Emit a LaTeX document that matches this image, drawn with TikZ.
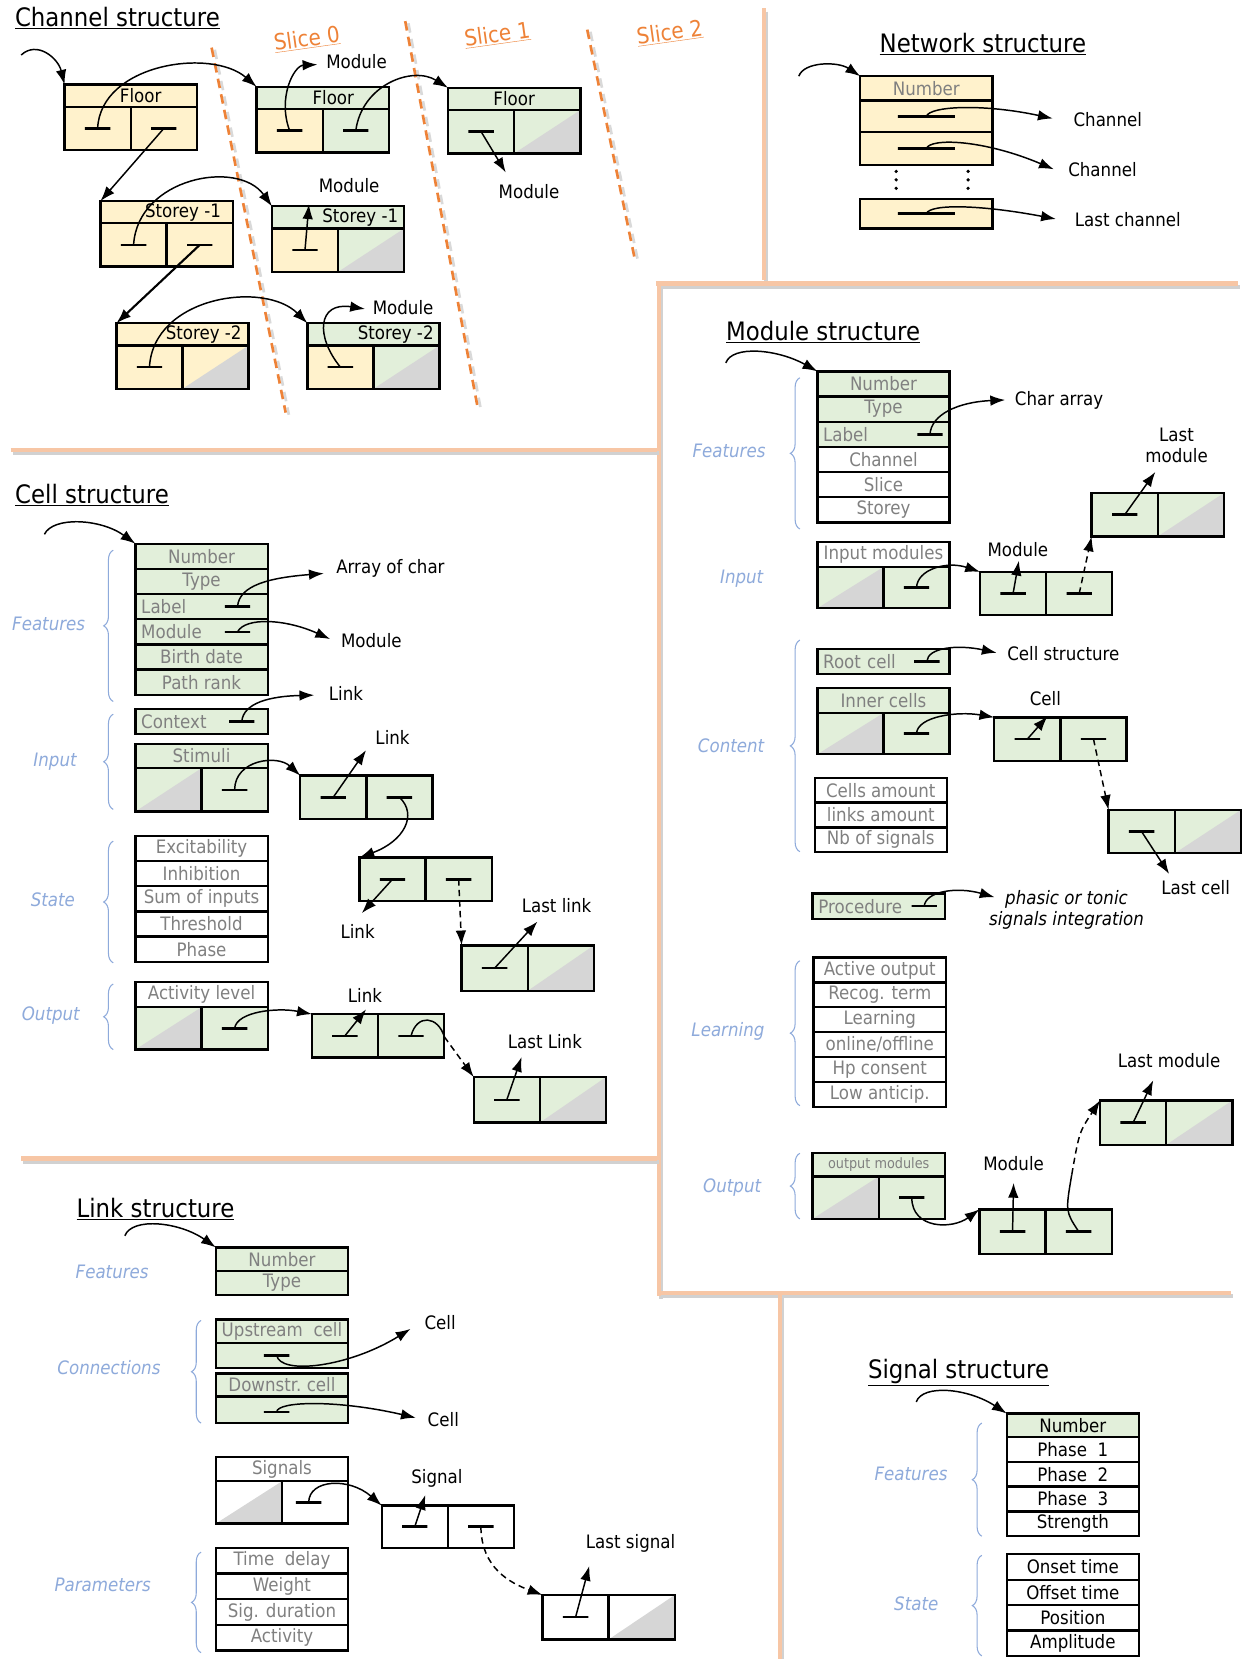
\documentclass[tikz,border=0pt]{standalone}
\usepackage{fontspec}
\setmainfont{DejaVu Sans}[FakeStretch=0.9]
\usetikzlibrary{arrows.meta,positioning,decorations.pathreplacing}

\definecolor{grn}{RGB}{226,239,218}
\definecolor{crm}{RGB}{255,242,204}
\definecolor{gry}{RGB}{214,214,214}
\definecolor{txtgray}{RGB}{128,128,128}
\definecolor{secblue}{RGB}{142,170,219}
\definecolor{peach}{RGB}{247,198,165}
\definecolor{slicecol}{RGB}{238,130,55}

\newcommand\rowfont{\fontsize{17.5}{19}\selectfont}
\newcommand\labfont{\fontsize{17.5}{20}\selectfont}
\newcommand\ttlfont{\fontsize{24}{28}\selectfont}
\newcommand\slcfont{\fontsize{21}{24}\selectfont}

\begin{document}
\begin{tikzpicture}[x=1pt, y=-1pt]
\tikzset{ >={Latex[length=14pt,width=10pt]},
  box/.style={draw, line width=2.2pt, inner sep=0pt, outer sep=0pt,
    minimum width=125pt, minimum height=23.8pt, text=txtgray, font=\rowfont},
  gbox/.style={box, fill=grn}, wbox/.style={box, fill=white}, ybox/.style={box, fill=crm},
  hdr/.style={box, minimum height=21pt, text=black, font=\labfont},
  cel/.style={box, minimum width=62.5pt, minimum height=41pt},
  lft/.style={text width=114pt, align=left},
  diag/.style={path picture={\fill[gry] (path picture bounding box.south west)
    -- (path picture bounding box.north east) -- (path picture bounding box.south east) -- cycle;}},
  ptrbar/.style={draw, line width=2.4pt, minimum width=24pt, minimum height=0pt, inner sep=0pt, outer sep=0pt},
  ptr/.style={->, line width=1.4pt},
  dptr/.style={ptr, dash pattern=on 6pt off 4pt},
  brc/.style={draw=secblue, line width=1pt, decorate, decoration={brace, amplitude=9pt}},
  sec/.style={text=secblue, font=\labfont\itshape, inner sep=0pt},
  lab/.style={font=\labfont, inner sep=0pt},
  ttl/.style={font=\ttlfont, inner sep=0pt},
  slc/.style={font=\slcfont, text=slicecol, inner sep=0pt, rotate=8},
  sepline/.style={draw=peach, line width=4pt},
  sepshade/.style={draw=black!18, line width=4pt},
}

\path[use as bounding box, fill=white] (0,0) rectangle (1173,1568);

% panel separators
\foreach \xa/\ya/\xb/\yb in {722/8/722/265, 620/268/1170/268, 623/268/623/1225,
    10/425/621/425, 20/1095/621/1095, 625/1222/1163/1222, 737/1224/737/1568}
  { \draw[sepshade] (\xa+2,\ya+3) -- (\xb+2,\yb+3);
    \draw[sepline] (\xa,\ya) -- (\xb,\yb); }

% slices
\foreach \xa/\ya/\xb/\yb in {200/45/270/390, 383/20/452/388, 555/28/600/245}
  { \draw[black!15, line width=2.5pt, dash pattern=on 9pt off 6pt] (\xa+3,\ya+2) -- (\xb+3,\yb+2);
    \draw[slicecol, line width=2.5pt, dash pattern=on 9pt off 6pt] (\xa,\ya) -- (\xb,\yb); }

%%% Channel structure
\node[ttl] (chT) at (111,17) {\underline{Channel structure}};
\node[slc] (sl0) at (290,37) {\underline{Slice 0}};
\node[slc] (sl1) at (470,33) {\underline{Slice 1}};
\node[slc] (sl2) at (633,31) {\underline{Slice 2}};

\node[hdr, fill=crm] (F0) at (123.5,90.5) {\hspace*{19pt}Floor};
\node[cel, fill=crm, below right=0pt of F0.south west] (F0l) {};
\node[cel, fill=crm, right=0pt of F0l] (F0r) {};
\node[hdr, fill=grn] (F1) at (305,92.5) {\hspace*{20pt}Floor};
\node[cel, fill=crm, below right=0pt of F1.south west] (F1l) {};
\node[cel, fill=grn, right=0pt of F1l] (F1r) {};
\node[hdr, fill=grn] (F2) at (486,93.5) {Floor};
\node[cel, fill=grn, below right=0pt of F2.south west] (F2l) {};
\node[cel, fill=grn, diag, right=0pt of F2l] (F2r) {};
\node[hdr, fill=crm] (S1a) at (157.5,200.5) {\hspace*{31pt}Storey -1};
\node[cel, fill=crm, below right=0pt of S1a.south west] (S1al) {};
\node[cel, fill=crm, right=0pt of S1al] (S1ar) {};
\node[hdr, fill=grn] (S1b) at (319.5,205.5) {\hspace*{42pt}Storey -1};
\node[cel, fill=crm, below right=0pt of S1b.south west] (S1bl) {};
\node[cel, fill=grn, diag, right=0pt of S1bl] (S1br) {};
\node[hdr, fill=crm] (S2a) at (172.5,316) {\hspace*{40pt}Storey -2};
\node[cel, fill=crm, below right=0pt of S2a.south west] (S2al) {};
\node[cel, fill=crm, diag, right=0pt of S2al] (S2ar) {};
\node[hdr, fill=grn] (S2b) at (353,316) {\hspace*{42pt}Storey -2};
\node[cel, fill=crm, below right=0pt of S2b.south west] (S2bl) {};
\node[cel, fill=grn, diag, right=0pt of S2bl] (S2br) {};
\foreach \c in {F0l,F0r,F1l,F1r,F2l,S1al,S1ar,S1bl,S2al,S2bl} \node[ptrbar] (b\c) at (\c) {};

\coordinate (chIn) at (20,52);
\coordinate (tChM1) at (300,61);
\coordinate (tChM2) at (478,163);
\coordinate (tChM3) at (292,193);
\coordinate (tChM4) at (345,292);
\draw[ptr] (chIn) .. controls (35,38) and (55,55) .. (F0.north west);
\draw[ptr] (bF0l.center) .. controls (95,60) and (200,45) .. (F1.north west);
\draw[ptr] (bF0r.center) -- (S1a.north west);
\draw[ptr] (bF1l.center) .. controls (262,92) and (278,62) .. (tChM1);
\draw[ptr] (bF1r.center) .. controls (342,80) and (390,62) .. (F2.north west);
\draw[ptr] (bF2l.center) -- (tChM2);
\draw[ptr] (bS1al.center) .. controls (130,168) and (225,150) .. (S1b.north west);
\draw[ptr, line width=2pt] (bS1ar.center) -- (S2a.north west);
\draw[ptr] (bS1bl.center) -- (tChM3);
\draw[ptr] (bS2al.center) .. controls (145,280) and (250,265) .. (S2b.north west);
\draw[ptr] (bS2bl.center) .. controls (298,318) and (300,285) .. (tChM4);
\node[lab] (chM1) at (337,58) {Module};
\node[lab] (chM2) at (500,181) {Module};
\node[lab] (chM3) at (330,175) {Module};
\node[lab] (chM4) at (381,291) {Module};

%%% Network structure
\node[ttl] (nwT) at (929,42) {\underline{Network structure}};
\node[ybox, minimum height=23pt] (nN) at (875.5,83.5) {Number};
\node[ybox, minimum height=30pt] (nC1) at (875.5,110) {};
\node[ybox, minimum height=31pt] (nC2) at (875.5,140.5) {};
\node[ybox, minimum height=28pt] (nC3) at (875.5,202) {};
\foreach \c in {nC1,nC2,nC3} \node[ptrbar, minimum width=54pt] (b\c) at (\c) {};
\foreach \x in {847,915} \foreach \y in {162,170,178} \fill (\x,\y) circle (1.7);
\coordinate (nIn) at (755,72);
\coordinate (tN1) at (995,112);
\coordinate (tN2) at (996,160);
\coordinate (tN3) at (998,207);
\draw[ptr] (nIn) .. controls (760,58) and (792,58) .. (nN.north west);
\draw[ptr] (bnC1.center) .. controls (879,100) and (930,98) .. (tN1);
\draw[ptr] (bnC2.center) .. controls (879,130) and (930,132) .. (tN2);
\draw[ptr] (bnC3.center) .. controls (879,192) and (930,194) .. (tN3);
\node[lab] (nL1) at (1047,113) {Channel};
\node[lab] (nL2) at (1042,160) {Channel};
\node[lab] (nL3) at (1066,208) {Last channel};

%%% Module structure
\node[ttl] (moT) at (778,314) {\underline{Module structure}};
\node[gbox] (mf1) at (835,362.9) {Number};
\node[gbox, below=0pt of mf1] (mf2) {Type};
\node[gbox, lft, below=0pt of mf2] (mf3) {Label};
\node[wbox, below=0pt of mf3] (mf4) {Channel};
\node[wbox, below=0pt of mf4] (mf5) {Slice};
\node[wbox, below=0pt of mf5] (mf6) {Storey};
\node[ptrbar, xshift=44pt] (bmf3) at (mf3) {};
\node[wbox] (mIn) at (835,524) {Input modules};
\node[cel, fill=grn, diag, minimum height=39pt, below right=0pt of mIn.south west] (mInl) {};
\node[cel, fill=grn, minimum height=39pt, right=0pt of mInl] (mInr) {};
\node[gbox, lft] (mRoot) at (835,625) {Root cell};
\node[ptrbar, xshift=41pt] (bmRoot) at (mRoot) {};
\node[gbox] (mInc) at (835,662) {Inner cells};
\node[cel, fill=grn, diag, minimum height=39pt, below right=0pt of mInc.south west] (mIncl) {};
\node[cel, fill=grn, minimum height=39pt, right=0pt of mIncl] (mIncr) {};
\foreach \t [count=\i] in {Cells amount,links amount,Nb of signals}
  \node[wbox, minimum height=23.5pt] (mc\i) at (832.5,723.25+23.5*\i) {\t};
\node[gbox, lft] (mPr) at (830.5,856.5) {Procedure};
\node[ptrbar, xshift=43pt] (bmPr) at (mPr) {};
\node[wbox, minimum height=23.5pt] (ml1) at (831.5,916.75) {Active output};
\node[wbox, minimum height=23.5pt, below=0pt of ml1] (ml2) {Recog. term};
\node[wbox, minimum height=23.5pt, below=0pt of ml2] (ml3) {Learning};
\node[wbox, minimum height=23.5pt, below=0pt of ml3] (ml4) {online/offline};
\node[wbox, minimum height=23.5pt, below=0pt of ml4] (ml5) {Hp consent};
\node[wbox, minimum height=23.5pt, below=0pt of ml5] (ml6) {Low anticip.};
\node[gbox, minimum height=22pt, font=\fontsize{13.5}{15}\selectfont] (mOut) at (830.5,1101) {output modules};
\node[cel, fill=grn, diag, minimum height=40pt, below right=0pt of mOut.south west] (mOutl) {};
\node[cel, fill=grn, minimum height=40pt, right=0pt of mOutl] (mOutr) {};

\node[cel, fill=grn] (M1) at (957.5,561) {};
\node[cel, fill=grn, right=0pt of M1] (M1r) {};
\node[cel, fill=grn] (LM1) at (1063,486.5) {};
\node[cel, fill=grn, diag, right=0pt of LM1] (LM1r) {};
\node[cel, fill=grn] (C1) at (971,698.5) {};
\node[cel, fill=grn, right=0pt of C1] (C1r) {};
\node[cel, fill=grn] (LC) at (1079,786) {};
\node[cel, fill=grn, diag, right=0pt of LC] (LCr) {};
\node[cel, fill=grn, minimum height=42pt] (M2) at (957,1164) {};
\node[cel, fill=grn, minimum height=42pt, right=0pt of M2] (M2r) {};
\node[cel, fill=grn, minimum height=42pt] (LM2) at (1071,1061) {};
\node[cel, fill=grn, diag, minimum height=42pt, right=0pt of LM2] (LM2r) {};
\foreach \c in {mInr,mIncr,mOutr,M1,M1r,LM1,C1,C1r,LC,M2,M2r,LM2} \node[ptrbar] (b\c) at (\c) {};

\coordinate (mEntry) at (686,343);
\coordinate (tmChar) at (950,378);
\coordinate (tmMod1) at (963,530);
\coordinate (tmLast1) at (1092,446);
\coordinate (tmCS) at (942,617);
\coordinate (tmCell) at (990,677);
\coordinate (tmLC) at (1105,826);
\coordinate (tmPh) at (940,848);
\coordinate (tmMod2) at (958,1118);
\coordinate (mMid) at (1013,1110);
\coordinate (tmLast2) at (1090,1021);
\draw[ptr] (mEntry) .. controls (692,326) and (735,330) .. (mf1.north west);
\draw[ptr] (bmf3.center) .. controls (880,392) and (905,380) .. (tmChar);
\draw[ptr] (bmInr.center) .. controls (867,538) and (895,530) .. (M1.north west);
\draw[ptr] (bM1.center) -- (tmMod1);
\draw[dptr] (bM1r.center) -- (LM1.south west);
\draw[ptr] (bLM1.center) -- (tmLast1);
\draw[ptr] (bmRoot.center) .. controls (877,612) and (905,609) .. (tmCS);
\draw[ptr] (bmIncr.center) .. controls (867,677) and (905,672) .. (C1.north west);
\draw[ptr] (bC1.center) -- (tmCell);
\draw[dptr] (bC1r.center) -- (LC.north west);
\draw[ptr] (bLC.center) -- (tmLC);
\draw[ptr] (bmPr.center) .. controls (875,842) and (905,838) .. (tmPh);
\draw[ptr] (bmOutr.center) .. controls (862,1162) and (900,1162) .. (M2.north west);
\draw[ptr] (bM2.center) -- (tmMod2);
\draw[line width=1.4pt] (bM2r.center) .. controls (1007,1145) .. (mMid);
\draw[dptr] (mMid) .. controls (1020,1070) .. (LM2.north west);
\draw[ptr] (bLM2.center) -- (tmLast2);
\node[lab] (mChar) at (1001,378) {Char array};
\node[lab, align=center] (mLast1) at (1112,421) {Last\\module};
\node[lab] (mMod1) at (962,519) {Module};
\node[lab] (mCS) at (1005,618) {Cell structure};
\node[lab] (mCell) at (988,660) {Cell};
\node[lab] (mLC) at (1130,839) {Last cell};
\node[lab, align=center, font=\labfont\itshape] (mPh) at (1008,860) {phasic or tonic\\signals integration};
\node[lab] (mLast2) at (1105,1002) {Last module};
\node[lab] (mMod2) at (958,1100) {Module};
\draw[brc] (756,500) -- (756,357);
\draw[brc] (756,805) -- (756,605);
\draw[brc] (756,1045) -- (756,908);
\draw[brc] (756,1152) -- (756,1090);
\node[sec] (mSecFe) at (689,426) {Features};
\node[sec] (mSecIn) at (701,547) {Input};
\node[sec] (mSecCo) at (691,705) {Content};
\node[sec] (mSecLe) at (688,975) {Learning};
\node[sec] (mSecOu) at (692,1122) {Output};

%%% Cell structure
\node[ttl] (ceT) at (87,468) {\underline{Cell structure}};
\node[gbox] (cf1) at (190.5,525.8) {Number};
\node[gbox, below=0pt of cf1] (cf2) {Type};
\node[gbox, lft, below=0pt of cf2] (cf3) {Label};
\node[gbox, lft, below=0pt of cf3] (cf4) {Module};
\node[gbox, below=0pt of cf4] (cf5) {Birth date};
\node[gbox, below=0pt of cf5] (cf6) {Path rank};
\node[ptrbar, xshift=34pt] (bcf3) at (cf3) {};
\node[ptrbar, xshift=34pt] (bcf4) at (cf4) {};
\node[gbox, lft] (cCtx) at (190.5,682) {Context};
\node[ptrbar, xshift=38pt] (bcCtx) at (cCtx) {};
\node[gbox, minimum height=23pt] (cStim) at (190.5,714.5) {Stimuli};
\node[cel, fill=grn, diag, below right=0pt of cStim.south west] (cStiml) {};
\node[cel, fill=grn, right=0pt of cStiml] (cStimr) {};
\foreach \t [count=\i] in {Excitability,Inhibition,Sum of inputs,Threshold,Phase}
  \node[wbox] (cs\i) at (190.5,778.1+23.8*\i) {\t};
\node[wbox] (cAct) at (190.5,940) {Activity level};
\node[cel, fill=grn, diag, minimum height=40pt, below right=0pt of cAct.south west] (cActl) {};
\node[cel, fill=grn, minimum height=40pt, right=0pt of cActl] (cActr) {};

\node[cel, fill=grn] (L1) at (315,753.5) {};
\node[cel, fill=grn, right=0pt of L1] (L1r) {};
\node[cel, fill=grn] (L2) at (371,831) {};
\node[cel, fill=grn, right=0pt of L2] (L2r) {};
\node[cel, fill=grn, minimum height=43pt] (LL1) at (467.5,915) {};
\node[cel, fill=grn, diag, minimum height=43pt, right=0pt of LL1] (LL1r) {};
\node[cel, fill=grn] (L3) at (326,979) {};
\node[cel, fill=grn, right=0pt of L3] (L3r) {};
\node[cel, fill=grn, minimum height=43pt] (LL2) at (479,1039.5) {};
\node[cel, fill=grn, diag, minimum height=43pt, right=0pt of LL2] (LL2r) {};
\foreach \c in {cStimr,cActr,L1,L1r,L2,L2r,LL1,L3,L3r,LL2} \node[ptrbar] (b\c) at (\c) {};

\coordinate (cIn) at (42,505);
\coordinate (tcAC) at (306,542);
\coordinate (tcMod) at (312,604);
\coordinate (tcLk1) at (297,657);
\coordinate (tcLk2) at (346,709);
\coordinate (tcLk3) at (342,863);
\coordinate (tcLast1) at (508,871);
\coordinate (tcLk4) at (346,954);
\coordinate (cMid) at (420,980);
\coordinate (tcLast2) at (493,999);
\draw[ptr] (cIn) .. controls (50,488) and (95,490) .. (cf1.north west);
\draw[ptr] (bcf3.center) .. controls (226,553) and (255,546) .. (tcAC);
\draw[ptr] (bcf4.center) .. controls (232,583) and (270,585) .. (tcMod);
\draw[ptr] (bcCtx.center) .. controls (230,664) and (256,658) .. (tcLk1);
\draw[ptr] (bcStimr.center) .. controls (222,718) and (262,713) .. (L1.north west);
\draw[ptr] (bL1.center) -- (tcLk2);
\draw[ptr] (bL1r.center) .. controls (395,770) and (382,795) .. (L2.north west);
\draw[ptr] (bL2.center) -- (tcLk3);
\draw[dptr] (bL2r.center) -- (LL1.north west);
\draw[ptr] (bLL1.center) -- (tcLast1);
\draw[ptr] (bcActr.center) .. controls (224,956) and (262,952) .. (L3.north west);
\draw[ptr] (bL3.center) -- (tcLk4);
\draw[line width=1.4pt] (bL3r.center) .. controls (394,958) and (414,960) .. (cMid);
\draw[dptr] (cMid) -- (LL2.north west);
\draw[ptr] (bLL2.center) -- (tcLast2);
\node[lab] (cACl) at (369,537) {Array of char};
\node[lab] (cModl) at (351,605) {Module};
\node[lab] (cLk1) at (327,655) {Link};
\node[lab] (cLk2) at (371,697) {Link};
\node[lab] (cLk3) at (338,880) {Link};
\node[lab] (cLast1) at (526,856) {Last link};
\node[lab] (cLk4) at (345,941) {Link};
\node[lab] (cLast2) at (515,984) {Last Link};
\draw[brc] (107,663) -- (107,520);
\draw[brc] (107,765) -- (107,675);
\draw[brc] (107,910) -- (107,795);
\draw[brc] (107,992) -- (107,930);
\node[sec] (cSecFe) at (46,590) {Features};
\node[sec] (cSecIn) at (52,720) {Input};
\node[sec] (cSecSt) at (50,850) {State};
\node[sec] (cSecOu) at (48,960) {Output};

%%% Link structure
\node[ttl] (lkT) at (147,1143) {\underline{Link structure}};
\node[gbox, minimum height=22.5pt] (lf1) at (266.5,1190.25) {Number};
\node[gbox, minimum height=22.5pt, below=0pt of lf1] (lf2) {Type};
\node[gbox, minimum height=22pt] (lUp) at (266.5,1258) {Upstream\ \ cell};
\node[gbox, below=0pt of lUp] (lUpP) {};
\node[gbox, minimum height=22pt] (lDn) at (266.5,1309) {Downstr.\ cell};
\node[gbox, minimum height=25pt, below=0pt of lDn] (lDnP) {};
\node[ptrbar, xshift=-5pt] (blUp) at (lUpP) {};
\node[ptrbar, xshift=-5pt, yshift=-2pt] (blDn) at (lDnP) {};
\node[wbox, minimum height=23pt] (lSg) at (266.5,1388.5) {Signals};
\node[cel, fill=white, diag, minimum height=40pt, below right=0pt of lSg.south west] (lSgl) {};
\node[cel, fill=white, minimum height=40pt, right=0pt of lSgl] (lSgr) {};
\node[ptrbar, xshift=-6pt] (blSg) at (lSgr) {};
\node[cel, fill=white, minimum height=40pt] (Sg1) at (392,1443) {};
\node[cel, fill=white, minimum height=40pt, right=0pt of Sg1] (Sg1r) {};
\node[cel, fill=white, minimum height=42pt] (LS) at (544,1528.5) {};
\node[cel, fill=white, diag, minimum height=42pt, right=0pt of LS] (LSr) {};
\foreach \c in {Sg1,Sg1r,LS} \node[ptrbar] (b\c) at (\c) {};
\foreach \t [count=\i] in {Time\ \ delay,Weight,Sig. duration,Activity}
  \node[wbox, minimum height=24.2pt] (lp\i) at (266.5,1450.9+24.2*\i) {\t};

\coordinate (lIn) at (118,1168);
\coordinate (tlC1) at (388,1256);
\coordinate (tlC2) at (393,1340);
\coordinate (tlSg) at (402,1413);
\coordinate (tlLast) at (557,1480);
\draw[ptr] (lIn) .. controls (125,1150) and (170,1155) .. (lf1.north west);
\draw[ptr] (blUp.center) .. controls (265,1300) and (330,1292) .. (tlC1);
\draw[ptr] (blDn.center) .. controls (262,1324) and (320,1323) .. (tlC2);
\draw[ptr] (blSg.center) .. controls (292,1398) and (330,1396) .. (Sg1.north west);
\draw[ptr] (bSg1.center) -- (tlSg);
\draw[dptr] (bSg1r.center) .. controls (455,1482) and (482,1496) .. (LS.north west);
\draw[ptr] (bLS.center) -- (tlLast);
\node[lab] (lC1) at (416,1250) {Cell};
\node[lab] (lC2) at (419,1342) {Cell};
\node[lab] (lSgl) at (413,1397) {Signal};
\node[lab] (lLast) at (596,1459) {Last signal};
\draw[brc] (190,1345) -- (190,1248);
\draw[brc] (190,1562) -- (190,1467);
\node[sec] (lSecFe) at (106,1202) {Features};
\node[sec] (lSecCo) at (103,1293) {Connections};
\node[sec] (lSecPa) at (97,1498) {Parameters};

%%% Signal structure
\node[ttl] (sgT) at (906,1297) {\underline{Signal structure}};
\node[gbox, text=black, minimum height=22pt] (sf1) at (1014,1347) {Number};
\foreach \t [count=\i] in {Phase\ \ 1,Phase\ \ 2,Phase\ \ 3,Strength}
  \node[wbox, text=black, minimum height=23.5pt] (sp\i) at (1014,1346.25+23.5*\i) {\t};
\foreach \t [count=\i] in {Onset time,Offset time,Position,Amplitude}
  \node[wbox, text=black, minimum height=24pt] (ss\i) at (1014,1457+24*\i) {\t};
\coordinate (sIn) at (866,1325);
\draw[ptr] (sIn) .. controls (872,1308) and (915,1312) .. (sf1.north west);
\draw[brc] (928,1452) -- (928,1345);
\draw[brc] (928,1565) -- (928,1470);
\node[sec] (sSecFe) at (861,1393) {Features};
\node[sec] (sSecSt) at (866,1516) {State};

\end{tikzpicture}
\end{document}
